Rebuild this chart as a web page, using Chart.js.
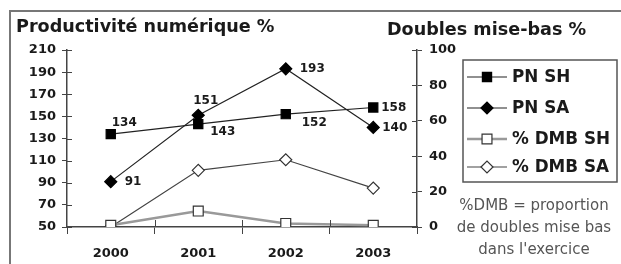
<!DOCTYPE html>
<html>
<head>
<meta charset="utf-8">
<script src="https://cdn.jsdelivr.net/npm/chart.js@4/dist/chart.umd.min.js"></script>
<style>
  html, body { margin: 0; padding: 0; background: #fff; }
  canvas { display: block; }
</style>
</head>
<body>
<canvas id="chart" width="621" height="264"></canvas>
<script>
// données
const years = ["2000", "2001", "2002", "2003"];
const pnSH = [134, 143, 152, 158];
const pnSA = [91, 151, 193, 140];
const dmbSH = [1, 9, 2, 1];
const dmbSA = [0, 32, 38, 22];
const seriesNames = ["PN SH", "PN SA", "% DMB SH", "% DMB SA"];
const noteLines = ["%DMB = proportion", "de doubles mise bas", "dans l'exercice"];

const FONT = "'DejaVu Sans', Arial, sans-serif";
const AXIS = "#444";

// décalage des étiquettes de valeur [dx, dy]
const labelOffsets = {
  0: [[1, -11], [12, 8], [16, 9], [8, 0]],
  1: [[14, 0], [-5, -14], [14, 0], [9, 0]],
};

// cadre + titres
const framePlugin = {
  id: "frame",
  beforeDraw(chart) {
    const ctx = chart.ctx;
    ctx.save();
    ctx.strokeStyle = "#777";
    ctx.lineWidth = 2;
    ctx.beginPath();
    ctx.moveTo(10, 264);
    ctx.lineTo(10, 11);
    ctx.lineTo(621, 11);
    ctx.stroke();
    ctx.fillStyle = "#1a1a1a";
    ctx.font = "bold 17.6px " + FONT;
    ctx.textBaseline = "middle";
    ctx.fillText("Productivité numérique %", 16, 27);
    ctx.fillText("Doubles mise-bas %", 387, 30);
    ctx.restore();
  },
};

// petites graduations qui traversent les axes
const crossTicks = {
  id: "crossTicks",
  afterDraw(chart) {
    const ctx = chart.ctx;
    const { y, y1, x } = chart.scales;
    ctx.save();
    ctx.strokeStyle = AXIS;
    ctx.lineWidth = 1;
    ctx.beginPath();
    y.ticks.forEach((t, i) => {
      const py = Math.round(y.getPixelForTick(i)) + 0.5;
      ctx.moveTo(y.right, py);
      ctx.lineTo(y.right + 5, py);
    });
    y1.ticks.forEach((t, i) => {
      const py = Math.round(y1.getPixelForTick(i)) + 0.5;
      ctx.moveTo(y1.left - 5, py);
      ctx.lineTo(y1.left, py);
    });
    for (let i = 1; i < years.length; i++) {
      const px = Math.round((x.getPixelForValue(i - 1) + x.getPixelForValue(i)) / 2) + 0.5;
      ctx.moveTo(px, x.top - 7);
      ctx.lineTo(px, x.top);
    }
    ctx.stroke();
    ctx.restore();
  },
};

// étiquettes de valeur
const valueLabels = {
  id: "valueLabels",
  afterDatasetsDraw(chart) {
    const ctx = chart.ctx;
    ctx.save();
    ctx.font = "bold 12px " + FONT;
    ctx.fillStyle = "#1a1a1a";
    ctx.textBaseline = "middle";
    ctx.textAlign = "left";
    [0, 1].forEach((di) => {
      const meta = chart.getDatasetMeta(di);
      const data = chart.data.datasets[di].data;
      meta.data.forEach((pt, i) => {
        const [dx, dy] = labelOffsets[di][i];
        ctx.fillText(String(data[i]), pt.x + dx, pt.y + dy);
      });
    });
    ctx.restore();
  },
};

// légende encadrée + note
const boxLegend = {
  id: "boxLegend",
  afterDraw(chart) {
    const ctx = chart.ctx;
    ctx.save();
    ctx.strokeStyle = "#555";
    ctx.lineWidth = 1.5;
    ctx.strokeRect(463, 60, 154, 122);
    const rows = [77, 108, 139, 167];
    chart.data.datasets.forEach((ds, i) => {
      const yy = rows[i];
      ctx.strokeStyle = ds.borderColor;
      ctx.lineWidth = ds.borderWidth;
      ctx.beginPath();
      ctx.moveTo(467, yy);
      ctx.lineTo(507, yy);
      ctx.stroke();
      ctx.fillStyle = ds.pointBackgroundColor;
      ctx.strokeStyle = ds.pointBorderColor;
      ctx.lineWidth = 1.2;
      Chart.helpers.drawPoint(ctx, { pointStyle: ds.pointStyle, radius: ds.pointRadius, rotation: 0, borderWidth: 1.2 }, 487, yy);
      ctx.fillStyle = "#1a1a1a";
      ctx.font = "bold 16.8px " + FONT;
      ctx.textBaseline = "middle";
      ctx.fillText(ds.label, 512, yy + 1);
    });
    ctx.fillStyle = "#555";
    ctx.font = "15px " + FONT;
    ctx.textAlign = "center";
    ctx.textBaseline = "middle";
    noteLines.forEach((t, i) => ctx.fillText(t, 534, 206 + i * 22));
    ctx.restore();
  },
};

const tickFont = { family: FONT, size: 13, weight: "bold" };

new Chart(document.getElementById("chart"), {
  type: "line",
  data: {
    labels: years,
    datasets: [
      {
        label: seriesNames[0], data: pnSH, yAxisID: "y",
        borderColor: "#222", borderWidth: 1.2,
        pointStyle: "rect", pointRadius: 6.5,
        pointBackgroundColor: "#000", pointBorderColor: "#000",
      },
      {
        label: seriesNames[1], data: pnSA, yAxisID: "y",
        borderColor: "#222", borderWidth: 1.2,
        pointStyle: "rectRot", pointRadius: 6,
        pointBackgroundColor: "#000", pointBorderColor: "#000",
      },
      {
        label: seriesNames[2], data: dmbSH, yAxisID: "y1",
        borderColor: "#999", borderWidth: 2.5,
        pointStyle: "rect", pointRadius: 7,
        pointBackgroundColor: "#fff", pointBorderColor: "#333", pointBorderWidth: 1.2,
      },
      {
        label: seriesNames[3], data: dmbSA, yAxisID: "y1",
        borderColor: "#444", borderWidth: 1.2,
        pointStyle: "rectRot", pointRadius: 6,
        pointBackgroundColor: "#fff", pointBorderColor: "#333", pointBorderWidth: 1.2,
      },
    ],
  },
  options: {
    responsive: false,
    animation: false,
    devicePixelRatio: 1,
    layout: { padding: { top: 50, left: 0, right: 0, bottom: 0 } },
    plugins: { legend: { display: false }, tooltip: { enabled: false } },
    elements: { line: { tension: 0 } },
    scales: {
      x: {
        offset: true,
        grid: { offset: true, drawOnChartArea: false, tickLength: 7, color: AXIS },
        border: { color: AXIS, width: 1.5 },
        ticks: { font: tickFont, color: "#1a1a1a", padding: 12 },
        afterFit: (s) => { s.height = 37; },
      },
      y: {
        position: "left",
        min: 50, max: 210,
        ticks: { stepSize: 20, font: tickFont, color: "#1a1a1a", padding: 6 },
        grid: { drawOnChartArea: false, tickLength: 5, color: AXIS },
        border: { color: AXIS, width: 1.5 },
        afterFit: (s) => { s.width = 67; },
      },
      y1: {
        position: "right",
        min: 0, max: 100,
        ticks: { stepSize: 20, font: tickFont, color: "#1a1a1a", padding: 7 },
        grid: { drawOnChartArea: false, tickLength: 5, color: AXIS },
        border: { color: AXIS, width: 1.5 },
        afterFit: (s) => { s.width = 204; },
      },
    },
  },
  plugins: [framePlugin, crossTicks, valueLabels, boxLegend],
});
</script>
</body>
</html>
